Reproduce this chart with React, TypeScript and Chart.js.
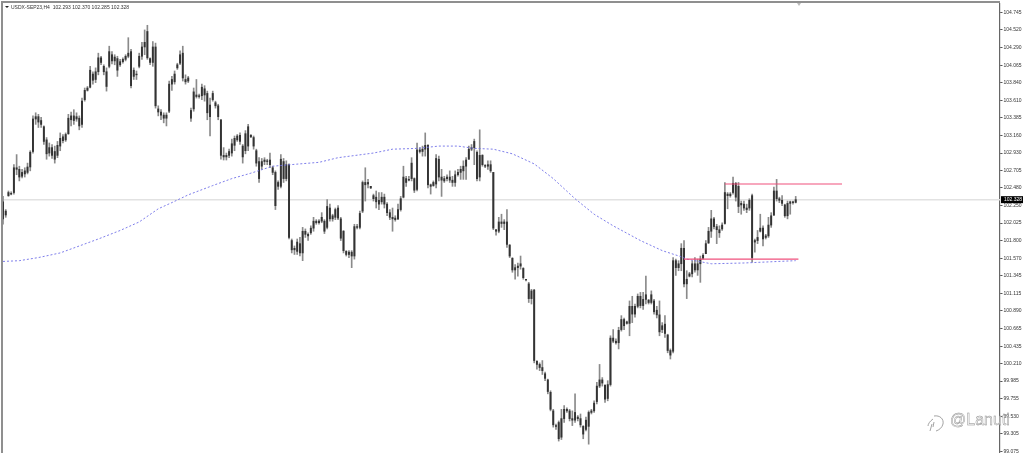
import React, { useEffect, useRef } from "react";
import { Chart, registerables } from "chart.js";

Chart.register(...registerables);

const symbolLabel = "USDX-SEP23,H4";
const quoteLabel = "102.293 102.370 102.285 102.328";
const watermarkLabel = "@Lanuti";

const tickValues = [104.745, 104.52, 104.29, 104.065, 103.84, 103.61, 103.385, 103.16, 102.93, 102.705, 102.48, 102.25, 102.025, 101.8, 101.57, 101.345, 101.115, 100.89, 100.665, 100.435, 100.21, 99.985, 99.755, 99.53, 99.305, 99.075];

const slotCount = 367;
const categories = Array.from({ length: slotCount }, (_, i) => String(i));

const highs = [
  102.37, 102.2, 102.44, 102.43, 102.78, 102.91, 102.76, 102.72, 102.74, 102.8, 102.96, 103.41, 103.45, 103.43, 103.39, 103.28, 103.13, 103.06, 103.04, 103.02, 103.08,
  103.19, 103.17, 103.19, 103.43, 103.46, 103.49, 103.45, 103.41, 103.64, 103.77, 103.79, 104.05, 103.98, 104.03, 104.22, 104.18, 104.07, 104.03, 104.31, 104.24,
  104.2, 104.18, 104.14, 104.16, 104.2, 104.42, 104.27, 104.03, 103.99, 104.22, 104.36, 104.52, 104.58, 104.16, 104.37, 104.35, 103.54, 103.49, 103.45, 103.45,
  103.86, 103.92, 103.99, 104.09, 104.25, 104.31, 103.94, 103.92, 103.51, 103.77, 103.88, 103.69, 103.82, 103.8, 103.73, 103.64, 103.73, 103.6, 103.56, 103.36,
  103.0, 102.93, 102.98, 103.11, 103.15, 103.17, 103.19, 103.04, 103.22, 103.3, 103.17, 103.15, 102.98, 102.87, 102.86, 102.87, 102.85, 102.93, 102.76, 102.7,
  102.57, 102.91, 102.86, 102.83, 102.79,
  101.82, 101.73, 101.82, 101.84, 101.97, 101.95, 101.9, 101.99, 102.1, 102.07, 102.07, 102.16, 102.07, 102.33, 102.27, 102.14, 102.22, 102.25, 102.1, 101.93,
  101.67, 101.67, 101.67, 102.01, 102.01, 102.18, 102.57,
  102.74, 102.59, 102.5, 102.4, 102.44, 102.42, 102.42, 102.4, 102.29, 102.2, 102.22, 102.12, 102.27, 102.37, 102.76, 102.63, 102.63, 102.87, 102.61, 103.06,
  103.0, 103.02, 103.19, 103.04, 102.53, 102.57, 102.91, 102.89, 102.72, 102.63, 102.65, 102.7, 102.63, 102.7, 102.72, 102.76, 102.83, 102.87, 103.02, 103.04,
  103.11, 102.96, 103.23, 102.91, 102.78, 102.83, 102.83, 102.68,
  101.94, 102.1, 102.14, 102.07, 102.2, 101.75, 101.58, 101.49, 101.51, 101.6, 101.45, 101.3, 101.26, 101.17,
  101.17, 100.25, 100.22, 100.25, 100.1, 100.01, 99.86, 99.62, 99.43, 99.47, 99.62, 99.67, 99.64, 99.62, 99.6, 99.82, 99.54, 99.56, 99.41,
  99.52, 99.6, 99.62, 99.73, 99.97, 100.2, 100.03, 99.94, 99.99, 100.57, 100.65, 100.53, 100.68, 100.83, 100.8, 100.76, 101.02, 101.08, 100.98, 101.11,
  101.13, 101.13, 101.34, 101.04, 101.15, 101.04, 100.95, 101.02, 100.74, 100.83, 100.59, 100.4, 101.58,
  101.56, 101.54, 101.76, 101.8, 101.41, 101.39, 101.54, 101.58, 101.56, 101.6, 101.63, 101.8, 101.97, 102.19, 102.1, 102.01, 101.99, 102.03, 102.55,
  102.42, 102.42, 102.62, 102.55, 102.55, 102.31, 102.31, 102.27, 102.34, 102.4,
  101.82, 101.93, 102.14, 101.99, 101.88, 102.1, 102.16, 102.49, 102.59, 102.36, 102.38, 102.27, 102.31, 102.31, 102.31, 102.37,
];

const lows = [
  102.01, 102.1, 102.37, 102.39, 102.4, 102.65, 102.57, 102.61, 102.62, 102.66, 102.7, 102.93, 103.3, 103.26, 103.26, 103.04, 102.85, 102.89, 102.86, 102.8, 102.87,
  102.96, 103.06, 103.08, 103.17, 103.28, 103.3, 103.34, 103.23, 103.26, 103.6, 103.73, 103.77, 103.82, 103.84, 103.94, 104.07, 103.94, 103.73, 104.03, 104.08,
  104.07, 103.92, 104.05, 104.09, 104.12, 104.16, 103.77, 103.88, 103.88, 104.03, 104.14, 104.2, 104.14, 104.07, 104.05, 103.51, 103.41, 103.36, 103.32, 103.28,
  103.45, 103.74, 103.82, 104.01, 104.07, 103.86, 103.82, 103.84, 103.34, 103.47, 103.64, 103.64, 103.62, 103.6, 103.36, 103.15, 103.6, 103.51, 103.36, 102.85,
  102.84, 102.84, 102.87, 102.89, 102.96, 103.08, 103.04, 102.8, 102.92, 102.96, 103.13, 102.98, 102.76, 102.55, 102.72, 102.78, 102.78, 102.74, 102.65, 102.2,
  102.46, 102.48, 102.55, 102.57, 101.82,
  101.64, 101.62, 101.62, 101.6, 101.54, 101.84, 101.8, 101.88, 101.92, 102.01, 102.01, 102.03, 101.89, 101.95, 102.05, 102.05, 102.07, 102.07, 101.8, 101.64,
  101.6, 101.58, 101.45, 101.56, 101.95, 101.95, 102.16,
  102.31, 102.48, 102.47, 102.31, 102.22, 102.2, 102.27, 102.22, 102.12, 102.07, 101.92, 102.05, 102.07, 102.18, 102.35, 102.5, 102.57, 102.57, 102.42, 102.44,
  102.93, 102.89, 102.89, 102.48, 102.4, 102.5, 102.48, 102.57, 102.37, 102.55, 102.57, 102.55, 102.5, 102.5, 102.63, 102.59, 102.59, 102.59, 102.85, 102.96,
  102.78, 102.57, 102.57, 102.76, 102.74, 102.72, 102.68, 101.94,
  101.87, 101.9, 101.97, 101.94, 101.71, 101.58, 101.39, 101.3, 101.34, 101.43, 101.3, 101.28, 101.0, 100.98,
  100.22, 100.14, 100.12, 100.07, 99.99, 99.82, 99.6, 99.39, 99.36, 99.21, 99.23, 99.45, 99.58, 99.47, 99.41, 99.45, 99.47, 99.39, 99.24,
  99.34, 99.17, 99.56, 99.58, 99.69, 99.9, 99.92, 99.71, 99.73, 99.92, 100.48, 100.46, 100.4, 100.63, 100.65, 100.72, 100.57, 100.74, 100.81, 100.93,
  100.93, 100.91, 100.98, 100.98, 100.98, 100.85, 100.8, 100.57, 100.61, 100.55, 100.35, 100.27, 100.35,
  101.35, 101.41, 101.41, 101.2, 101.05, 101.33, 101.33, 101.39, 101.35, 101.26, 101.56, 101.63, 101.76, 101.84, 101.95, 101.76, 101.84, 101.93, 102.01,
  102.21, 102.36, 102.4, 102.31, 102.16, 102.14, 102.19, 102.16, 102.19, 101.52,
  101.65, 101.76, 101.91, 101.73, 101.82, 101.84, 101.97, 102.12, 102.31, 102.29, 102.25, 102.1, 102.08, 102.14, 102.27, 102.285,
];

const opens = [
  102.08, 102.18, 102.38, 102.41, 102.42, 102.74, 102.72, 102.63, 102.66, 102.68, 102.75, 102.95, 103.37, 103.4, 103.35, 103.27, 103.1, 102.93, 103.0, 102.95, 102.9,
  103.02, 103.14, 103.1, 103.18, 103.36, 103.41, 103.37, 103.38, 103.3, 103.62, 103.74, 103.78, 103.95, 103.88, 103.98, 104.16, 104.05, 103.98, 104.05, 104.2,
  104.12, 104.15, 104.07, 104.11, 104.14, 104.18, 104.24, 103.92, 103.95, 104.05, 104.18, 104.3, 104.5, 104.15, 104.1, 104.3, 103.5, 103.46, 103.42, 103.38,
  103.47, 103.82, 103.85, 104.03, 104.09, 104.22, 103.88, 103.86, 103.38, 103.5, 103.68, 103.66, 103.67, 103.76, 103.7, 103.55, 103.62, 103.58, 103.54, 103.36,
  102.9, 102.88, 102.9, 102.93, 103.03, 103.1, 103.16, 103.02, 102.96, 103.02, 103.16, 103.13, 102.96, 102.82, 102.76, 102.82, 102.82, 102.84, 102.74, 102.68,
  102.5, 102.5, 102.82, 102.6, 102.78,
  101.8, 101.68, 101.66, 101.76, 101.64, 101.92, 101.88, 101.9, 101.96, 102.05, 102.03, 102.05, 102.05, 101.97, 102.22, 102.08, 102.1, 102.22, 102.08, 101.92,
  101.66, 101.62, 101.65, 101.6, 101.98, 101.97, 102.18,
  102.55, 102.55, 102.5, 102.38, 102.36, 102.32, 102.3, 102.36, 102.27, 102.16, 102.1, 102.09, 102.08, 102.2, 102.36, 102.6, 102.59, 102.6, 102.6, 102.46,
  102.97, 102.95, 102.98, 103.03, 102.52, 102.51, 102.53, 102.85, 102.62, 102.57, 102.6, 102.62, 102.58, 102.55, 102.65, 102.68, 102.7, 102.76, 102.85, 102.98,
  103.0, 102.94, 102.62, 102.9, 102.77, 102.76, 102.78, 102.68,
  101.94, 101.92, 102.04, 102.02, 102.04, 101.74, 101.57, 101.42, 101.45, 101.47, 101.44, 101.3, 101.24, 101.05,
  101.16, 100.24, 100.2, 100.16, 100.08, 100.0, 99.84, 99.6, 99.41, 99.45, 99.26, 99.5, 99.6, 99.6, 99.5, 99.48, 99.52, 99.5, 99.4,
  99.36, 99.4, 99.58, 99.6, 99.72, 99.92, 100.0, 99.93, 99.76, 99.94, 100.54, 100.5, 100.48, 100.65, 100.78, 100.75, 100.73, 100.95, 100.85, 100.95,
  101.08, 100.96, 101.04, 101.03, 101.0, 101.02, 100.9, 100.84, 100.65, 100.72, 100.58, 100.38, 100.37,
  101.54, 101.45, 101.5, 101.7, 101.24, 101.34, 101.37, 101.5, 101.42, 101.5, 101.57, 101.63, 101.77, 101.92, 102.08, 101.98, 101.94, 101.95, 102.02,
  102.4, 102.38, 102.42, 102.54, 102.5, 102.28, 102.27, 102.22, 102.22, 102.38,
  101.8, 101.8, 101.92, 101.96, 101.84, 101.86, 102.0, 102.13, 102.44, 102.34, 102.32, 102.26, 102.12, 102.28, 102.3, 102.293,
];

const closes = [
  102.3, 102.13, 102.42, 102.4, 102.74, 102.72, 102.62, 102.68, 102.7, 102.75, 102.94, 103.37, 103.4, 103.33, 103.3, 103.08, 102.92, 103.0, 102.9, 102.85, 103.03,
  103.12, 103.09, 103.17, 103.38, 103.41, 103.35, 103.4, 103.28, 103.6, 103.74, 103.77, 104.0, 103.87, 103.98, 104.16, 104.1, 103.98, 103.79, 104.24, 104.12,
  104.17, 104.0, 104.11, 104.14, 104.18, 104.22, 103.8, 104.0, 103.94, 104.18, 104.3, 104.36, 104.16, 104.1, 104.3, 103.54, 103.46, 103.42, 103.38, 103.42,
  103.82, 103.88, 103.95, 104.07, 104.2, 103.9, 103.85, 103.9, 103.48, 103.72, 103.66, 103.67, 103.78, 103.68, 103.45, 103.4, 103.7, 103.54, 103.4, 102.9,
  102.88, 102.9, 102.95, 103.05, 103.12, 103.15, 103.08, 102.88, 103.18, 103.27, 103.14, 103.02, 102.8, 102.6, 102.82, 102.84, 102.83, 102.78, 102.68, 102.25,
  102.55, 102.85, 102.6, 102.78, 101.84,
  101.68, 101.7, 101.78, 101.64, 101.92, 101.88, 101.86, 101.96, 102.05, 102.03, 102.05, 102.1, 101.92, 102.24, 102.08, 102.12, 102.2, 102.09, 101.83, 101.67,
  101.62, 101.65, 101.6, 101.98, 101.97, 102.15, 102.55,
  102.52, 102.53, 102.48, 102.34, 102.3, 102.27, 102.36, 102.27, 102.16, 102.1, 102.08, 102.07, 102.2, 102.34, 102.62, 102.55, 102.58, 102.8, 102.45, 102.97,
  102.95, 102.98, 103.03, 102.52, 102.5, 102.55, 102.86, 102.62, 102.58, 102.6, 102.62, 102.58, 102.55, 102.65, 102.68, 102.72, 102.76, 102.84, 102.98, 103.0,
  103.08, 102.6, 102.9, 102.78, 102.76, 102.78, 102.7, 101.96,
  101.92, 102.04, 102.02, 102.04, 101.75, 101.6, 101.42, 101.45, 101.47, 101.5, 101.32, 101.29, 101.05, 101.15,
  100.25, 100.2, 100.16, 100.12, 100.02, 99.85, 99.62, 99.42, 99.4, 99.24, 99.5, 99.62, 99.62, 99.5, 99.48, 99.58, 99.5, 99.42, 99.3,
  99.48, 99.58, 99.6, 99.7, 99.92, 100.0, 99.96, 99.75, 99.94, 100.54, 100.5, 100.48, 100.64, 100.78, 100.7, 100.73, 100.95, 100.85, 100.95, 101.08,
  100.96, 101.04, 101.1, 101.0, 101.1, 100.88, 100.84, 100.62, 100.7, 100.6, 100.38, 100.32, 101.54,
  101.45, 101.5, 101.7, 101.24, 101.3, 101.37, 101.5, 101.42, 101.5, 101.56, 101.61, 101.76, 101.92, 102.08, 101.98, 101.94, 101.9, 102.0, 102.42,
  102.38, 102.4, 102.54, 102.36, 102.24, 102.26, 102.22, 102.2, 102.32, 101.58,
  101.78, 101.84, 101.96, 101.82, 101.86, 102.0, 102.12, 102.44, 102.34, 102.32, 102.28, 102.12, 102.28, 102.3, 102.29, 102.328,
];

const maSlots = [0, 6, 13, 21, 28, 35, 43, 50, 57, 62, 68, 77, 84, 91, 99, 109, 116, 123, 136, 143, 152, 160, 167, 173, 180, 187, 195, 202, 210, 217, 224, 234, 242, 249, 251, 260, 272, 291];
const maValues = [101.53, 101.54, 101.58, 101.64, 101.73, 101.82, 101.93, 102.04, 102.21, 102.29, 102.39, 102.51, 102.6, 102.67, 102.76, 102.79, 102.81, 102.87, 102.93, 102.98, 102.99, 103.02, 103.02, 102.99, 102.98, 102.92, 102.79, 102.6, 102.34, 102.14, 101.99, 101.8, 101.67, 101.59, 101.56, 101.5, 101.51, 101.54];

const resistanceLevel = 102.53;
const resistanceSlots = [265, 308];
const supportLevel = 101.56;
const supportSlots = [250, 292];
const currentPrice = 102.328;

const priceTag = {
  id: "priceTag",
  afterDraw(chart: any) {
    const { ctx, scales } = chart;
    const y = scales.y.getPixelForValue(currentPrice);
    const left = scales.y.left;
    ctx.save();
    ctx.fillStyle = "#000";
    ctx.fillRect(left + 1, y - 3.5, 22, 7);
    ctx.fillStyle = "#fff";
    ctx.font = '5px "Liberation Sans"';
    ctx.textBaseline = "middle";
    ctx.fillText(currentPrice.toFixed(3), left + 4, y + 0.3);
    ctx.restore();
  },
};

export default function App() {
  const ref = useRef<HTMLCanvasElement>(null);
  useEffect(() => {
    const chart = new Chart(ref.current as HTMLCanvasElement, {
      type: "bar",
      data: {
        labels: categories,
        datasets: [
          {
            type: "line",
            data: [{ x: categories[0], y: currentPrice }, { x: categories[slotCount - 1], y: currentPrice }],
            borderColor: "#e2e2e2",
            borderWidth: 1.5,
            pointRadius: 0,
            order: 5,
          },
          {
            type: "line",
            data: maSlots.map((s, i) => ({ x: categories[s], y: maValues[i] })),
            borderColor: "#6f6fe8",
            borderWidth: 0.9,
            borderDash: [2, 2],
            pointRadius: 0,
            order: 1,
          },
          {
            type: "line",
            data: resistanceSlots.map((s) => ({ x: categories[s], y: resistanceLevel })),
            borderColor: "#f0507c",
            borderWidth: 1.2,
            pointRadius: 0,
            order: 0,
          },
          {
            type: "line",
            data: supportSlots.map((s) => ({ x: categories[s], y: supportLevel })),
            borderColor: "#f0507c",
            borderWidth: 1.2,
            pointRadius: 0,
            order: 0,
          },
          {
            type: "bar",
            data: highs.map((h, i) => [lows[i], h]),
            backgroundColor: "#8a8a8a",
            barThickness: 1,
            grouped: false,
            order: 4,
          },
          {
            type: "bar",
            data: opens.map((o, i) => [o, closes[i]]),
            backgroundColor: "#333",
            barThickness: 1.3,
            grouped: false,
            order: 3,
          },
        ],
      } as any,
      plugins: [priceTag],
      options: {
        animation: false,
        responsive: false,
        maintainAspectRatio: false,
        devicePixelRatio: 1,
        layout: { padding: { top: 4, left: 3, right: 0, bottom: -3 } },
        plugins: { legend: { display: false }, tooltip: { enabled: false }, title: { display: false } },
        scales: {
          x: { type: "category", display: false, offset: false, grid: { display: false } },
          y: {
            position: "right",
            min: 99.056,
            max: 104.855,
            afterFit: (s: any) => { s.width = 24; s.paddingTop = 0; s.paddingBottom = 0; },
            afterBuildTicks: (s: any) => { s.ticks = tickValues.map((value) => ({ value })); },
            border: { display: true, color: "#666", width: 1.2 },
            grid: { drawOnChartArea: false, drawTicks: true, tickLength: 2.5, color: "#555" },
            ticks: {
              autoSkip: false,
              padding: 1,
              color: "#333",
              font: { family: "Liberation Sans", size: 5 },
              callback: (v: any) => Number(v).toFixed(3),
            },
          },
        },
      } as any,
    });
    return () => chart.destroy();
  }, []);

  return (
    <div style={{ position: "fixed", left: 0, top: 0, width: 1024, height: 453, overflow: "hidden", background: "#fff" }}>
      <canvas ref={ref} width={1024} height={453} style={{ display: "block", filter: "blur(0.3px)" }} />
      <div style={{ position: "absolute", left: 1, top: 1, width: 999, height: 452, borderLeft: "2px solid #8f8f8f", borderTop: "2px solid #8f8f8f", boxSizing: "border-box" }} />
      <div style={{ position: "absolute", left: 797, top: 3, width: 0, height: 0, borderLeft: "2.5px solid transparent", borderRight: "2.5px solid transparent", borderTop: "3px solid #bbb" }} />
      <div style={{ position: "absolute", left: 4.5, top: 6, width: 0, height: 0, borderLeft: "2px solid transparent", borderRight: "2px solid transparent", borderTop: "2.5px solid #222" }} />
      <div style={{ position: "absolute", left: 11, top: 4, font: '5px "Liberation Sans"', color: "#333", whiteSpace: "pre" }}>
        {symbolLabel + "  " + quoteLabel}
      </div>
      <svg style={{ position: "absolute", left: 925, top: 414 }} width="22" height="20" fill="none" stroke="#999" strokeWidth="0.9">
        <path d="M9 2 C15 1 19 5 18 10 C17 14 14 16 11 17" />
        <path d="M8 5 C5 7 3 10 3 12 M7 10 L5 17 M9 8 L8 13" />
      </svg>
      <div style={{ position: "absolute", left: 950, top: 411, font: '300 16px "Liberation Sans"', color: "rgba(255,255,255,0.85)", WebkitTextStroke: "0.45px #888", whiteSpace: "pre" }}>
        {watermarkLabel}
      </div>
    </div>
  );
}
